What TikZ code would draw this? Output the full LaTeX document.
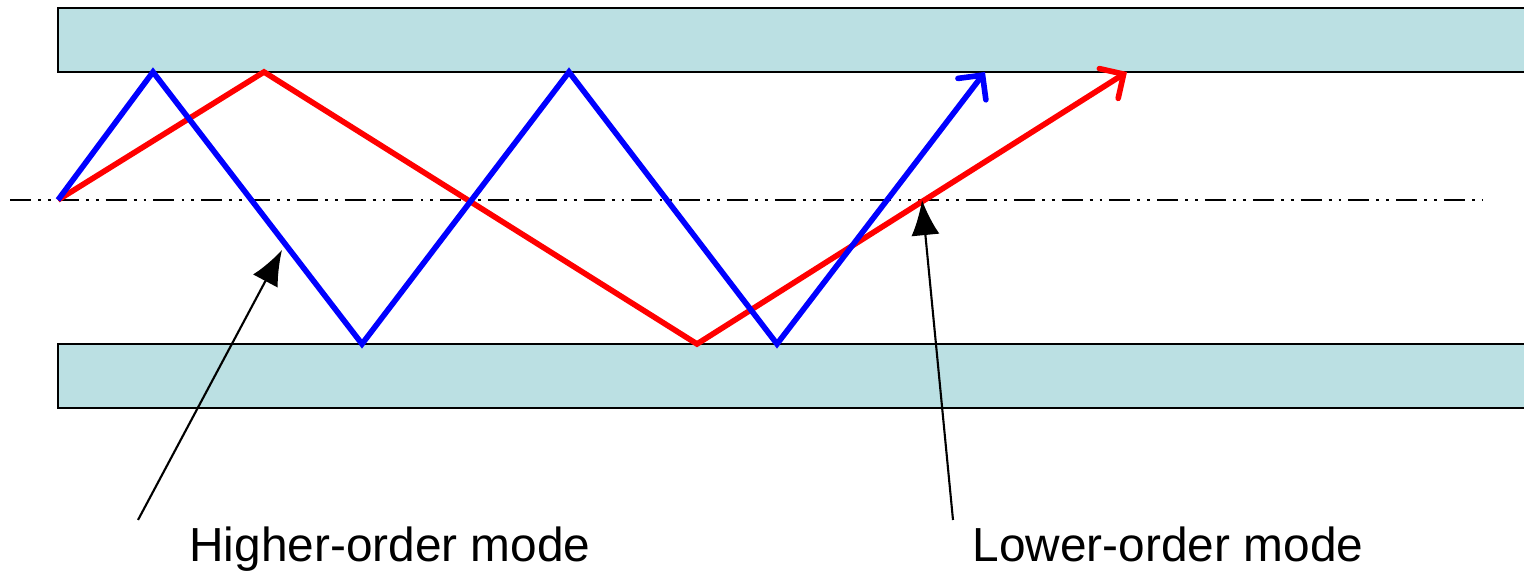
\documentclass[tikz,border=0pt]{standalone}
\usepackage{fontspec}
\setmainfont{Liberation Sans}
\usetikzlibrary{arrows.meta}

\definecolor{slabfill}{RGB}{187,224,227}

\begin{document}
\begin{tikzpicture}[
    ray/.style={line width=1.6pt, line join=miter},
    raytip/.style={-{Straight Barb[length=5pt,width=10pt,line cap=round]}},
    pointer/.style={line width=0.6pt, -{Latex[length=10pt,width=8pt]}},
    label/.style={font=\fontsize{13.6}{16}\selectfont, anchor=base}
]
    % Fix the page size
    \useasboundingbox (0,0) rectangle (15.24,5.73);

    % Draw the two slabs
    \fill[slabfill] (0.58,5.65) rectangle (15.30,5.01);
    \draw[line width=0.6pt] (15.30,5.65) -- (0.58,5.65) -- (0.58,5.01) -- (15.30,5.01);
    \fill[slabfill] (0.58,2.29) rectangle (15.30,1.65);
    \draw[line width=0.6pt] (15.30,2.29) -- (0.58,2.29) -- (0.58,1.65) -- (15.30,1.65);

    % Draw the axis
    \draw[line width=0.5pt, dash pattern=on 6pt off 2pt on 0.8pt off 2pt on 0.8pt off 2pt]
        (0.10,3.73) -- (14.83,3.73);

    % Bounce points
    \coordinate (start) at (0.58,3.73);
    \coordinate (b1) at (1.53,5.01);
    \coordinate (b2) at (3.62,2.29);
    \coordinate (b3) at (5.69,5.01);
    \coordinate (b4) at (7.77,2.29);
    \coordinate (b5) at (9.85,5.01);
    \coordinate (r1) at (2.64,5.01);
    \coordinate (r2) at (6.97,2.29);
    \coordinate (r3) at (11.27,5.01);

    % Draw the rays
    \draw[ray, red, raytip] (start) -- (r1) -- (r2) -- (r3);
    \draw[ray, blue, raytip] (start) -- (b1) -- (b2) -- (b3) -- (b4) -- (b5);

    % Label the modes
    \node[label] (high) at (3.90,0.11) {Higher-order mode};
    \node[label] (low) at (11.68,0.11) {Lower-order mode};
    \coordinate (hightail) at (1.38,0.53);
    \coordinate (hightip) at (2.82,3.23);
    \coordinate (lowtail) at (9.53,0.53);
    \coordinate (lowtip) at (9.22,3.73);
    \draw[pointer] (hightail) -- (hightip);
    \draw[pointer] (lowtail) -- (lowtip);

\end{tikzpicture}
\end{document}
